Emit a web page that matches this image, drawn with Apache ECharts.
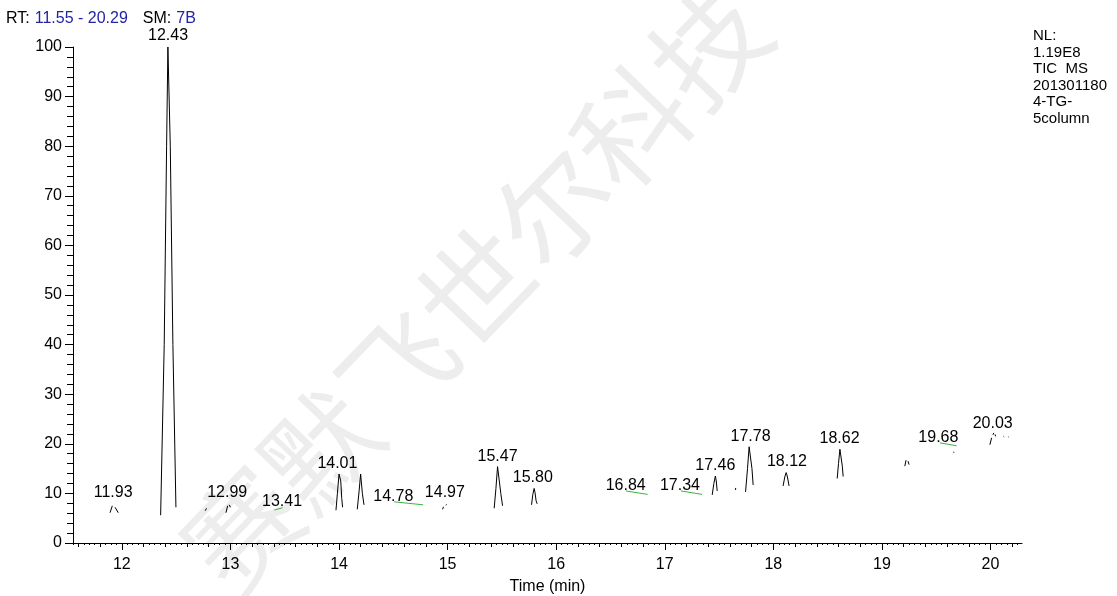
<!DOCTYPE html>
<html><head><meta charset="utf-8">
<script src="https://cdn.jsdelivr.net/npm/echarts@6/dist/echarts.min.js"></script>
<style>html,body{margin:0;padding:0;background:#fff}#c{width:1117px;height:596px}</style>
</head><body><div id="c"></div>
<script>
// ---- data ----
const rtRange = ['11.55', '20.29'];
const smValue = '7B';
const infoLines = ['NL:', '1.19E8', 'TIC  MS', '201301180', '4-TG-', '5column'];
const xMin = 11.55, xMax = 20.29;
const xMajorTicks = [12, 13, 14, 15, 16, 17, 18, 19, 20];
const yTicks = [0, 10, 20, 30, 40, 50, 60, 70, 80, 90, 100];
const xAxisTitle = 'Time (min)';
const watermarkText = '赛默飞世尔科技';

// chromatogram trace pieces (null = gap)
const traceTime = [
  11.891, 11.912, null,
  11.937, 11.967, null,
  12.357, 12.39, 12.412, 12.424, 12.446, 12.47, 12.498, null,
  12.767, 12.78, null,
  12.959, 12.974, null,
  12.989, 13.0, null,
  13.972, 13.985, 14.0, 14.008, 14.016, 14.025, 14.033, null,
  14.168, 14.185, 14.199, 14.204, 14.215, 14.23, null,
  14.954, 14.962, null,
  14.984, 14.99, null,
  15.429, 15.445, 15.46, 15.466, 15.472, 15.49, 15.506, null,
  15.773, 15.785, 15.797, 15.805, 15.815, 15.825, null,
  16.162, 16.166, null,
  16.815, 16.819, null,
  16.85, 16.854, null,
  17.437, 17.452, 17.466, 17.474, 17.483, null,
  17.652, 17.653, null,
  17.744, 17.762, 17.777, 17.79, 17.803, 17.814, null,
  18.09, 18.105, 18.118, 18.128, 18.145, null,
  18.588, 18.6, 18.613, 18.625, 18.635, 18.643, null,
  19.211, 19.222, null,
  19.24, 19.25, null,
  19.661, 19.663, null,
  19.994, 20.01, null,
  20.022, 20.03, null,
  20.042, 20.047, null,
  20.12, 20.126, null,
  20.165, 20.17
];
const traceIntensity = [
  6.1, 7.5, null,
  7.2, 6.1, null,
  5.6, 40, 80, 100, 80, 40, 7.2, null,
  6.5, 7.0, null,
  6.1, 7.5, null,
  7.7, 7.2, null,
  6.6, 10, 13.9, 14.0, 12.5, 9, 7.2, null,
  6.8, 10.5, 13.9, 13.8, 10, 7.7, null,
  6.8, 7.3, null,
  7.6, 7.8, null,
  7.0, 11, 15.4, 15.5, 15.1, 10, 7.5, null,
  7.7, 9.8, 11.0, 10.2, 8.5, 7.9, null,
  8.3, 8.4, null,
  9.0, 9.0, null,
  9.0, 8.9, null,
  9.7, 12, 13.5, 12.5, 10.5, null,
  10.7, 11.1, null,
  10.3, 15, 19.4, 19.3, 15, 11.7, null,
  11.5, 13.3, 14.2, 13.5, 11.5, null,
  13.0, 16, 18.9, 18.7, 15.5, 13.4, null,
  15.5, 16.7, null,
  16.5, 15.8, null,
  18.4, 18.2, null,
  19.8, 21.2, null,
  21.8, 22.2, null,
  21.9, 21.5, null,
  21.5, 21.4, null,
  21.4, 21.3
];

// integration baselines (green)
const baselineStartTime = [13.404, 14.508, 16.642, 17.148, 19.533];
const baselineStartValue = [6.65, 8.3, 10.5, 10.5, 20.2];
const baselineEndTime = [13.48, 14.775, 16.842, 17.344, 19.687];
const baselineEndValue = [7.1, 7.7, 9.8, 9.8, 19.6];

// peak labels
const peakLabels = ['11.93','12.43','12.99','13.41','14.01','14.78','14.97','15.47','15.80','16.84','17.34','17.46','17.78','18.12','18.62','19.68','20.03'];
const labelTime = [11.92, 12.425, 12.97, 13.475, 13.985, 14.50, 14.975, 15.46, 15.785, 16.64, 17.14, 17.465, 17.79, 18.125, 18.61, 19.52, 20.02];
const labelHeight = [9.1, 101.2, 9.1, 7.3, 14.9, 8.3, 9.1, 16.3, 12.1, 10.5, 10.5, 14.5, 20.4, 15.3, 20.0, 20.2, 23.0];

// ---- build ----
const FONT = "'Liberation Sans', Arial, sans-serif";
const chart = echarts.init(document.getElementById('c'), null, {renderer: 'canvas'});

const series = [];
let seg = [];
function flush() {
  if (seg.length) {
    series.push({type: 'line', data: seg, showSymbol: false, symbol: 'none', animation: false,
      lineStyle: {color: '#000', width: 1}, silent: true, z: 3});
  }
  seg = [];
}
for (let i = 0; i < traceTime.length; i++) {
  if (traceTime[i] === null) { flush(); continue; }
  seg.push([traceTime[i], traceIntensity[i]]);
}
flush();

for (let i = 0; i < baselineStartTime.length; i++) {
  series.push({type: 'line', data: [[baselineStartTime[i], baselineStartValue[i]], [baselineEndTime[i], baselineEndValue[i]]],
    showSymbol: false, symbol: 'none', animation: false, silent: true, z: 2,
    lineStyle: {color: '#3cb43c', width: 1}});
}

series.push({
  type: 'scatter', clip: false, animation: false, silent: true, z: 4,
  symbolSize: 1, itemStyle: {color: 'rgba(0,0,0,0)', opacity: 1},
  data: peakLabels.map((s, i) => [labelTime[i], labelHeight[i], s]),
  label: {show: true, position: 'top', distance: -3, formatter: p => p.value[2],
    color: '#000', fontSize: 16, fontFamily: FONT}
});

// tick value helpers
const mediumTicks = [], minorTicks = [];
for (let k = Math.ceil(xMin * 20); k <= Math.floor(xMax * 20); k++) {
  const v = k / 20;
  if (k % 20 === 0) continue;
  if (k % 4 === 0) mediumTicks.push(+v.toFixed(2)); else minorTicks.push(+v.toFixed(2));
}

function tickAxis(values, len, showLine) {
  return {
    type: 'value', min: xMin, max: xMax, position: 'bottom', gridIndex: 0,
    axisLine: {show: showLine, onZero: false, lineStyle: {color: '#000', width: 1}},
    axisTick: {show: true, customValues: values, length: len, lineStyle: {color: '#000', width: 1}},
    axisLabel: {show: false}, splitLine: {show: false}
  };
}

const xAxis = [
  {
    type: 'value', min: xMin, max: xMax, position: 'bottom',
    name: xAxisTitle, nameLocation: 'middle', nameGap: 36,
    nameTextStyle: {color: '#000', fontSize: 16, fontFamily: FONT},
    axisLine: {show: true, onZero: false, lineStyle: {color: '#000', width: 1}},
    axisTick: {show: true, customValues: xMajorTicks, length: 7, lineStyle: {color: '#000', width: 1}},
    axisLabel: {show: true, customValues: xMajorTicks, margin: 14, color: '#000', fontSize: 16, fontFamily: FONT},
    splitLine: {show: false}
  },
  tickAxis(mediumTicks, 4, false),
  tickAxis(minorTicks, 2, false)
];

const option = {
  animation: false,
  backgroundColor: '#fff',
  grid: {left: 73, right: 95, top: 47, bottom: 53, containLabel: false, outerBoundsMode: 'none'},
  title: {
    text: '{k|RT:} {b|' + rtRange[0] + ' - ' + rtRange[1] + '}   {k|SM:} {b|' + smValue + '}',
    left: 6, top: 10, padding: 0,
    textStyle: {fontWeight: 'normal', rich: {
      k: {color: '#000', fontSize: 16, fontFamily: FONT, fontWeight: 'normal'},
      b: {color: '#2323a6', fontSize: 16, fontFamily: FONT, fontWeight: 'normal'}
    }}
  },
  xAxis: xAxis,
  yAxis: {
    type: 'value', min: 0, max: 100, interval: yTicks[1] - yTicks[0],
    axisLine: {show: true, lineStyle: {color: '#000', width: 1}},
    axisTick: {show: true, length: 8, lineStyle: {color: '#000'}},
    minorTick: {show: true, splitNumber: 5, length: 6, lineStyle: {color: '#000'}},
    axisLabel: {color: '#000', fontSize: 16, fontFamily: FONT, margin: 11},
    splitLine: {show: false}
  },
  graphic: [
    {type: 'text', x: 476, y: 288, rotation: 46 * Math.PI / 180, z: -10, silent: true,
      style: {text: watermarkText, fill: '#ededed', font: "112px 'Noto Sans CJK SC'", align: 'center', verticalAlign: 'middle'}},
    {type: 'text', left: 1033, top: 28, silent: true,
      style: {text: infoLines.join('\n'), fill: '#000', font: "15px " + FONT, lineHeight: 16.5}}
  ],
  series: series
};
chart.setOption(option);
</script>
</body></html>
